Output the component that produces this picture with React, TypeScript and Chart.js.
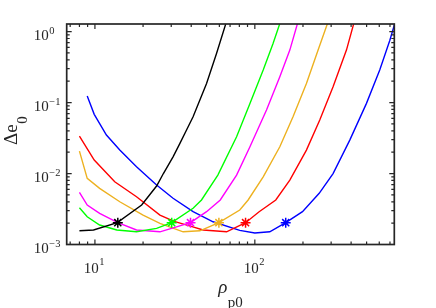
import React, { useEffect, useRef } from "react";
import { Chart, registerables } from "chart.js";

Chart.register(...registerables);

// ---- data ----
const blackX = [8.0, 9.8, 13.8, 19.6, 24.3, 26.8, 30.8, 34.0, 37.4, 41.1, 49.9, 57.6, 65.9];
const blackY = [1.56e-3, 1.6e-3, 2.03e-3, 3.6e-3, 6.67e-3, 1.0e-2, 1.72e-2, 2.66e-2, 4.1e-2, 6.3e-2, 0.186, 0.493, 1.3];

const greenX = [8.0, 8.95, 10.7, 13.7, 18.2, 24.3, 30.2, 41.1, 46.4, 58.7, 76.9, 93.2, 112.8, 130, 143.3];
const greenY = [3.3e-3, 2.46e-3, 1.88e-3, 1.6e-3, 1.51e-3, 1.69e-3, 2.03e-3, 3.24e-3, 4.24e-3, 9.5e-3, 3.3e-2, 9.7e-2, 0.287, 0.682, 1.3];

const magentaX = [8.0, 8.95, 10.7, 13.9, 18.2, 25.5, 39.6, 49.9, 60.8, 76.9, 93.2, 118.3, 143.3, 165.5, 184.8];
const magentaY = [5.43e-3, 3.6e-3, 2.75e-3, 2.03e-3, 1.6e-3, 1.51e-3, 2.03e-3, 2.9e-3, 4.24e-3, 9.5e-3, 2.38e-2, 7.84e-2, 0.231, 0.549, 1.3];

const orangeX = [8.0, 8.95, 10.7, 14.3, 20.0, 25.5, 35.6, 45.3, 59.6, 80.5, 90.8, 112.8, 143.3, 173.3, 210.2, 248.7, 284.6];
const orangeY = [2.07e-2, 8.56e-3, 6.19e-3, 4.0e-3, 2.6e-3, 1.99e-3, 1.51e-3, 1.56e-3, 2.03e-3, 3.06e-3, 4.24e-3, 9.0e-3, 2.38e-2, 6.3e-2, 0.186, 0.549, 1.3];

const redX = [8.0, 9.9, 13.3, 18.2, 25.5, 31.3, 40.0, 47.5, 66.6, 87.5, 106.4, 135.2, 165.5, 210.2, 254.7, 308.5, 374, 415.6];
const redY = [3.37e-2, 1.55e-2, 7.67e-3, 4.71e-3, 2.6e-3, 2.12e-3, 1.8e-3, 1.6e-3, 1.51e-3, 2.03e-3, 2.9e-3, 4.24e-3, 8.1e-3, 2.14e-2, 5.67e-2, 0.167, 0.549, 1.3];

const blueX = [8.95, 9.9, 11.8, 14.3, 18.2, 24.3, 30.8, 41.1, 54.8, 80.5, 100, 124, 156, 198.6, 252.6, 308.5, 392.4, 499, 604, 698, 750];
const blueY = [0.1235, 6.82e-2, 3.49e-2, 2.14e-2, 1.25e-2, 6.89e-3, 4.48e-3, 2.9e-3, 2.09e-3, 1.58e-3, 1.45e-3, 1.51e-3, 2.03e-3, 2.9e-3, 5.26e-3, 1.0e-2, 2.96e-2, 9.75e-2, 0.287, 0.75, 1.3];

const starX = [13.9, 30.2, 39.6, 59.6, 87.5, 156];
const starY = [2.03e-3, 2.03e-3, 2.03e-3, 2.03e-3, 2.03e-3, 2.03e-3];

const seriesColors = ["#000000", "#00ff00", "#ff00ff", "#EDB120", "#ff0000", "#0000ff"];

const xMajorTicks = [10, 100];
const xTickExponents = ["1", "2"];
const yMajorTicks = [1e-3, 1e-2, 1e-1, 1];
const yTickExponents = ["\u22123", "\u22122", "\u22121", "0"];

const xMin = 6.66;
const xMax = 745;
const yMin = 1e-3;
const yMax = 1.28;

const AXIS_COLOR = "#262626";
const SERIF = "'Liberation Serif', 'Times New Roman', serif";

function minorValues(lo: number, hi: number) {
  const out: { v: number; major: boolean }[] = [];
  for (let e = -4; e <= 4; e++) {
    for (let k = 1; k < 10; k++) {
      const v = k * Math.pow(10, e);
      if (v > lo * 1.0001 && v < hi * 0.9999) out.push({ v, major: k === 1 });
    }
  }
  return out;
}

const axesPlugin = {
  id: "matlabAxes",
  afterDraw(chart: any) {
    const { ctx, chartArea: a, scales } = chart;
    const xs = scales.x;
    const ys = scales.y;
    ctx.save();
    ctx.strokeStyle = AXIS_COLOR;
    ctx.lineWidth = 1.2;
    ctx.beginPath();
    for (const t of minorValues(xMin, xMax)) {
      const px = xs.getPixelForValue(t.v);
      const len = t.major ? 5 : 3;
      ctx.moveTo(px, a.bottom);
      ctx.lineTo(px, a.bottom - len);
      ctx.moveTo(px, a.top);
      ctx.lineTo(px, a.top + len);
    }
    for (const t of minorValues(yMin, yMax)) {
      const py = ys.getPixelForValue(t.v);
      const len = t.major ? 5 : 3;
      ctx.moveTo(a.left, py);
      ctx.lineTo(a.left + len, py);
      ctx.moveTo(a.right, py);
      ctx.lineTo(a.right - len, py);
    }
    ctx.stroke();
    ctx.lineWidth = 1.7;
    ctx.strokeRect(a.left, a.top, a.right - a.left, a.bottom - a.top);

    ctx.fillStyle = AXIS_COLOR;
    ctx.textBaseline = "alphabetic";
    ctx.textAlign = "left";
    const baseFont = `15px ${SERIF}`;
    const expFont = `10.5px ${SERIF}`;

    // x tick labels
    xMajorTicks.forEach((v, i) => {
      const px = xs.getPixelForValue(v);
      ctx.font = baseFont;
      const w1 = ctx.measureText("10").width;
      ctx.font = expFont;
      const w2 = ctx.measureText(xTickExponents[i]).width;
      const start = px - (w1 + w2) / 2 - 1;
      ctx.font = baseFont;
      ctx.fillText("10", start, a.bottom + 28);
      ctx.font = expFont;
      ctx.fillText(xTickExponents[i], start + w1 + 0.5, a.bottom + 20.5);
    });

    // y tick labels
    yMajorTicks.forEach((v, i) => {
      const py = ys.getPixelForValue(v);
      ctx.font = baseFont;
      const w1 = ctx.measureText("10").width;
      ctx.fillText("10", 33.8, py + 8.5);
      ctx.font = expFont;
      ctx.fillText(yTickExponents[i], 33.8 + w1 + 0.5, py + 2);
    });

    // y title
    ctx.save();
    ctx.translate(16.7, 145);
    ctx.rotate(-Math.PI / 2);
    ctx.font = `19px ${SERIF}`;
    ctx.fillText("\u0394e", 0, 0);
    const wt = ctx.measureText("\u0394e").width;
    ctx.font = `15px ${SERIF}`;
    ctx.fillText("0", wt + 0.5, 10);
    ctx.restore();

    // x title
    ctx.font = `italic 19px ${SERIF}`;
    ctx.fillText("\u03c1", 218.3, 292.5);
    ctx.font = `15px ${SERIF}`;
    ctx.fillText("p0", 227.7, 307);

    ctx.restore();
  },
};

export default function App() {
  const canvasRef = useRef<HTMLCanvasElement | null>(null);

  useEffect(() => {
    const canvas = canvasRef.current;
    if (!canvas) return;
    const curves = [
      { x: blackX, y: blackY },
      { x: greenX, y: greenY },
      { x: magentaX, y: magentaY },
      { x: orangeX, y: orangeY },
      { x: redX, y: redY },
      { x: blueX, y: blueY },
    ];
    const lineSets = curves.map((c, i) => ({
      type: "line" as const,
      data: c.x.map((x, j) => ({ x, y: c.y[j] })),
      borderColor: seriesColors[i],
      backgroundColor: seriesColors[i],
      borderWidth: 1.4,
      pointRadius: 0,
      fill: false,
      tension: 0,
      order: 1,
    }));
    const starSets = starX.map((x, i) => ({
      type: "scatter" as const,
      data: [{ x, y: starY[i] }],
      borderColor: seriesColors[i],
      backgroundColor: seriesColors[i],
      pointStyle: "star",
      pointRadius: 5,
      borderWidth: 1.5,
      showLine: false,
      order: 0,
    }));

    const chart = new Chart(canvas, {
      type: "line",
      data: { datasets: [...lineSets, ...starSets] as any },
      options: {
        responsive: false,
        maintainAspectRatio: false,
        animation: false,
        devicePixelRatio: 1,
        layout: { padding: { left: 66.7, right: 41.7, top: 24, bottom: 63.5 } },
        plugins: { legend: { display: false }, tooltip: { enabled: false } },
        scales: {
          x: { type: "logarithmic", min: xMin, max: xMax, display: false, bounds: "data" } as any,
          y: { type: "logarithmic", min: yMin, max: yMax, display: false, bounds: "data" } as any,
        },
      },
      plugins: [axesPlugin],
    });
    return () => chart.destroy();
  }, []);

  return (
    <div style={{ position: "fixed", left: 0, top: 0, width: 436, height: 308, background: "#ffffff" }}>
      <canvas ref={canvasRef} width={436} height={308} style={{ display: "block", width: 436, height: 308 }} />
    </div>
  );
}
